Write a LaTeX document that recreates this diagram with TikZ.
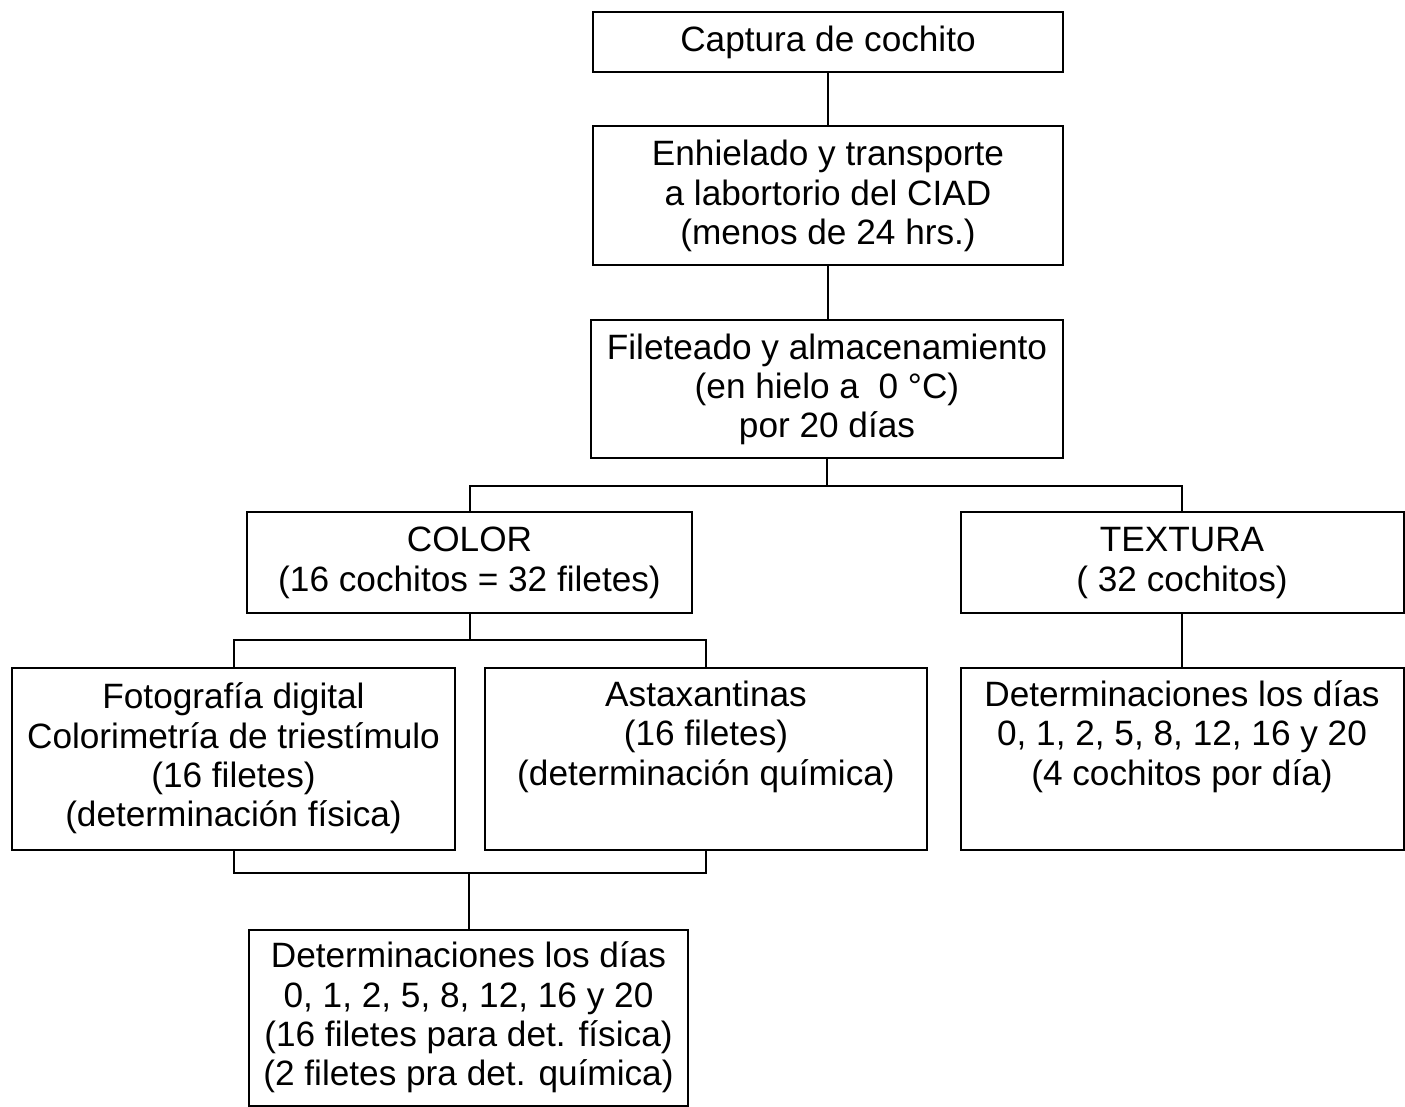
\documentclass[tikz,border=0pt]{standalone}
\usepackage{fontspec}
\setmainfont{Liberation Sans}
\usepackage{tikz}
\usetikzlibrary{calc}

\begin{document}
\begin{tikzpicture}[x=0.5pt,y=-0.5pt,
	procbox/.style={draw, line width=1pt, align=center, inner sep=0pt,
		font=\fontsize{17.6}{19.7}\selectfont},
	link/.style={line width=1pt}]
	
	\useasboundingbox (0,0) rectangle (1405,1107);
	
	\node[procbox, minimum width=235pt, minimum height=30pt] (cap) at (828,42) {Captura de cochito};
	\node[procbox, minimum width=235pt, minimum height=69.5pt] (enh) at (828,196) {Enhielado y transporte\\a labortorio del CIAD\\(menos de 24 hrs.)};
	\node[procbox, minimum width=236pt, minimum height=69pt] (fil) at (827,389.5) {Fileteado y almacenamiento\\(en hielo a\ \ 0 °C)\\por 20 días};
	
	\node[procbox, minimum width=222.5pt, minimum height=50.5pt] (color) at (469.5,563) {COLOR\\(16 cochitos = 32 filetes)};
	\node[procbox, minimum width=221.5pt, minimum height=50.5pt] (textura) at (1182,563) {TEXTURA\\( 32 cochitos)};
	
	\node[procbox, minimum width=221.5pt, minimum height=91pt] (foto) at (233.5,758.5) {Fotografía digital\\Colorimetría de triestímulo\\(16 filetes)\\(determinación física)};
	\node[procbox, minimum width=221pt, minimum height=91pt] (asta) at (706,758.5) {Astaxantinas\\(16 filetes)\\(determinación química)\\ \strut};
	\node[procbox, minimum width=221.5pt, minimum height=91pt] (detR) at (1182,758.5) {Determinaciones los días\\0, 1, 2, 5, 8, 12, 16 y 20\\(4 cochitos por día)\\ \strut};
	
	\node[procbox, minimum width=219.5pt, minimum height=88pt] (detB) at (468.5,1017.5) {Determinaciones los días\\0, 1, 2, 5, 8, 12, 16 y 20\\(16 filetes para det. física)\\(2 filetes pra det. química)};
	
	\coordinate (joinF) at (827,486);
	\coordinate (joinC) at (469.5,640);
	\coordinate (joinB) at (469,873);
	
	\draw[link] (cap.south) -- (enh.north);
	\draw[link] (enh.south) -- (enh.south |- fil.north);
	\draw[link] (fil.south) -- (joinF);
	\draw[link] (color.north) |- (joinF) -| (textura.north);
	\draw[link] (color.south) -- (joinC);
	\draw[link] (foto.north) |- (joinC) -| (asta.north);
	\draw[link] (textura.south) -- (detR.north);
	\draw[link] (foto.south) |- (joinB) -| (asta.south);
	\draw[link] (joinB) -- (joinB |- detB.north);
	
\end{tikzpicture}
\end{document}
